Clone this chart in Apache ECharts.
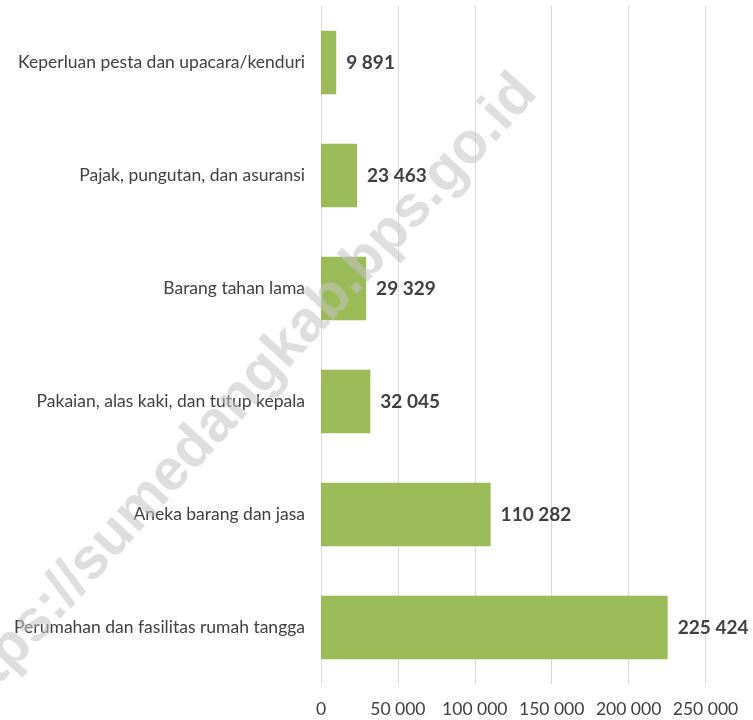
<!DOCTYPE html>
<html>
<head>
<meta charset="utf-8">
<script src="https://cdn.jsdelivr.net/npm/echarts@6/dist/echarts.min.js"></script>
<style>
html,body{margin:0;padding:0;background:#fff;}
#chart{width:753px;height:720px;}
</style>
</head>
<body>
<div id="chart"></div>
<script>
const categories = [
  "Keperluan pesta dan upacara/kenduri",
  "Pajak, pungutan, dan asuransi",
  "Barang tahan lama",
  "Pakaian, alas kaki, dan tutup kepala",
  "Aneka barang dan jasa",
  "Perumahan dan fasilitas rumah tangga"
];
const values = [9891, 23463, 29329, 32045, 110282, 225424];
const xTicks = [0, 50000, 100000, 150000, 200000, 250000];
const watermark = "https://sumedangkab.bps.go.id";

function fmt(v) {
  return String(v).replace(/\B(?=(\d{3})+(?!\d))/g, " ");
}

const chart = echarts.init(document.getElementById('chart'));
chart.setOption({
  animation: false,
  backgroundColor: '#ffffff',
  grid: { left: 321, right: 47.5, top: 6, bottom: 36, containLabel: false },
  xAxis: {
    type: 'value',
    min: xTicks[0],
    max: xTicks[xTicks.length - 1],
    interval: 50000,
    axisLine: { show: false },
    axisTick: { show: false },
    splitLine: { show: true, lineStyle: { color: '#d9d9d9', width: 1 } },
    axisLabel: {
      margin: 16,
      color: '#404040',
      fontFamily: 'Lato',
      fontSize: 17.5,
      formatter: v => fmt(v)
    }
  },
  yAxis: {
    type: 'category',
    data: categories,
    inverse: true,
    axisLine: { show: false },
    axisTick: { show: false },
    axisLabel: {
      margin: 16,
      color: '#404040',
      fontFamily: 'Lato',
      fontSize: 17.5
    }
  },
  series: [{
    type: 'bar',
    data: values,
    barCategoryGap: '44%',
    itemStyle: { color: '#9bbb59' },
    label: {
      show: true,
      position: 'right',
      distance: 10,
      color: '#404040',
      fontFamily: 'Lato',
      fontWeight: 'bold',
      fontSize: 19,
      formatter: p => fmt(p.value)
    }
  }],
  graphic: [{
    type: 'text',
    x: 238,
    y: 400,
    rotation: 47.6 * Math.PI / 180,
    z: 100,
    silent: true,
    style: {
      text: watermark,
      font: 'bold 58px "Liberation Sans", Arial, sans-serif',
      fill: 'rgba(195,195,195,0.55)',
      align: 'center',
      verticalAlign: 'middle'
    }
  }]
});
</script>
</body>
</html>
